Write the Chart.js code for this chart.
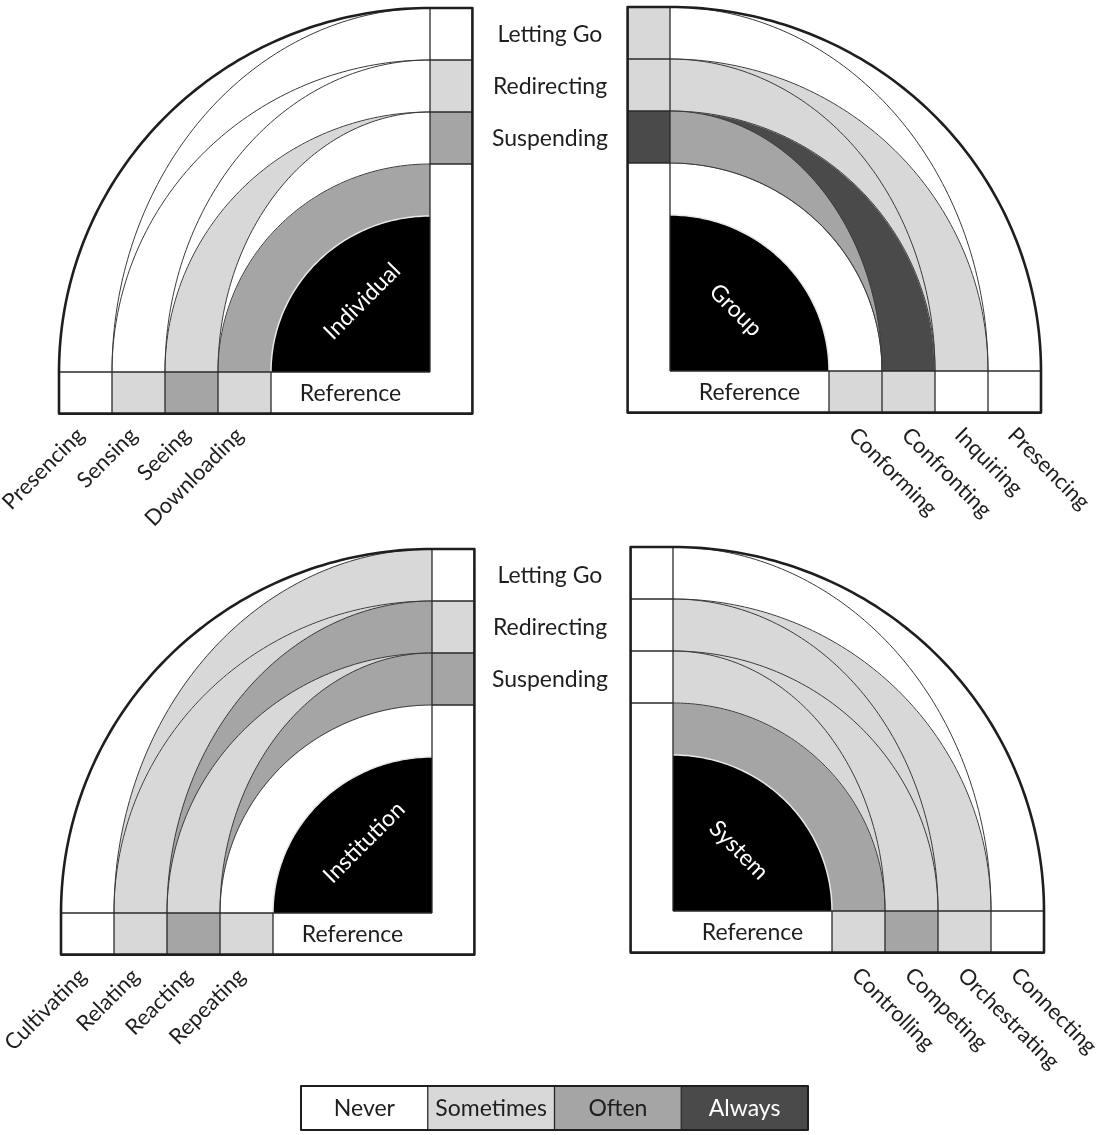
<!DOCTYPE html>
<html>
<head>
<meta charset="utf-8">
<script src="https://cdn.jsdelivr.net/npm/chart.js@4.4.1/dist/chart.umd.min.js"></script>
<style>
html, body { margin: 0; padding: 0; background: #fff; }
#wrap { position: relative; width: 1098px; height: 1135px; }
</style>
</head>
<body>
<div id="wrap"><canvas id="fieldChart" width="1098" height="1135"></canvas></div>
<script>
(function () {

/* ----------- DATA ----------- */

const quadrantNames = ['Individual', 'Group', 'Institution', 'System'];

const individualLevels = ['Downloading', 'Seeing', 'Sensing', 'Presencing'];
const groupLevels = ['Conforming', 'Confronting', 'Inquiring', 'Presencing'];
const institutionLevels = ['Repeating', 'Reacting', 'Relating', 'Cultivating'];
const systemLevels = ['Controlling', 'Competing', 'Orchestrating', 'Connecting'];

const gestures = ['Suspending', 'Redirecting', 'Letting Go'];
const frequencies = ['Never', 'Sometimes', 'Often', 'Always'];

// frequency index: 0 Never, 1 Sometimes, 2 Often, 3 Always
const individualLevelFreq = [1, 2, 1, 0];
const groupLevelFreq = [1, 1, 0, 0];
const institutionLevelFreq = [1, 2, 1, 0];
const systemLevelFreq = [1, 2, 1, 0];

const individualGestureFreq = [2, 1, 0];
const groupGestureFreq = [3, 1, 1];
const institutionGestureFreq = [2, 1, 0];
const systemGestureFreq = [0, 0, 0];

// every ring is cut in two: the part leaning to the gesture bar (upper)
// and the part leaning to the level bar (lower)
const individualRingUpper = [2, 0, 0, 0];
const individualRingLower = [2, 1, 0, 0];
const groupRingUpper = [0, 2, 1, 0];
const groupRingLower = [0, 3, 1, 0];
const institutionRingUpper = [0, 2, 2, 1];
const institutionRingLower = [0, 1, 1, 0];
const systemRingUpper = [2, 1, 1, 0];
const systemRingLower = [2, 1, 1, 0];

/* ----------- LAYOUT / STYLE ----------- */

const UX = 53;       // width of one ring, horizontally
const UY = 52;       // width of one ring, vertically
const CORE = 3;      // reference disk radius, in rings
const BAR = 0.8;     // bar thickness, in rings
const FILLS = ['#ffffff', '#d8d8d8', '#a5a5a5', '#4a4a4a'];
const FONT = 'Lato, "Open Sans", sans-serif';
const FONT_SIZE = 23;
const LEVEL_FONT_SIZE = 22;

const quads = [
  {name: quadrantNames[0], cx: 430, cy: 372, side: -1, levels: individualLevels,
   levelFreq: individualLevelFreq, gestureFreq: individualGestureFreq,
   upper: individualRingUpper, lower: individualRingLower},
  {name: quadrantNames[1], cx: 670, cy: 371, side: 1, levels: groupLevels,
   levelFreq: groupLevelFreq, gestureFreq: groupGestureFreq,
   upper: groupRingUpper, lower: groupRingLower},
  {name: quadrantNames[2], cx: 432, cy: 913, side: -1, levels: institutionLevels,
   levelFreq: institutionLevelFreq, gestureFreq: institutionGestureFreq,
   upper: institutionRingUpper, lower: institutionRingLower},
  {name: quadrantNames[3], cx: 673, cy: 911, side: 1, levels: systemLevels,
   levelFreq: systemLevelFreq, gestureFreq: systemGestureFreq,
   upper: systemRingUpper, lower: systemRingLower}
];

const KEY = {left: 301, top: 1086, width: 507, height: 44};

/* ----------- PLUGIN ----------- */

const fieldPlugin = {
id: 'fieldPlugin',

afterDraw(chart) {

const {ctx, scales: {x, y}} = chart;
const N = 90;

// ring units -> pixels, dx away from the corner, dy upwards
function pt(q, dx, dy) {
  return {
    x: x.getPixelForValue(q.cx + q.side * dx * UX),
    y: y.getPixelForValue(q.cy - dy * UY)
  };
}

function arcPath(q, a, b, reverse) {
  for (let i = 0; i <= N; i++) {
    const t = (reverse ? N - i : i) / N * Math.PI / 2;
    const p = pt(q, a * Math.cos(t), b * Math.sin(t));
    ctx.lineTo(p.x, p.y);
  }
}

function fillBand(q, oa, ob, ia, ib, color) {
  ctx.beginPath();
  arcPath(q, oa, ob, false);
  arcPath(q, ia, ib, true);
  ctx.closePath();
  ctx.fillStyle = color;
  ctx.fill();
}

function strokeArc(q, a, b, width, color) {
  ctx.beginPath();
  const p0 = pt(q, a, 0);
  ctx.moveTo(p0.x, p0.y);
  arcPath(q, a, b, false);
  ctx.lineWidth = width;
  ctx.strokeStyle = color;
  ctx.stroke();
}

function cell(q, d0, d1, e0, e1, color) {
  const p = pt(q, d0, e0), r = pt(q, d1, e1);
  ctx.fillStyle = color;
  ctx.fillRect(Math.min(p.x, r.x), Math.min(p.y, r.y), Math.abs(r.x - p.x), Math.abs(r.y - p.y));
}

function line(q, d0, e0, d1, e1) {
  const p = pt(q, d0, e0), r = pt(q, d1, e1);
  ctx.beginPath();
  ctx.moveTo(p.x, p.y);
  ctx.lineTo(r.x, r.y);
  ctx.stroke();
}

ctx.save();

quads.forEach(q => {

  const outer = CORE + q.levels.length;

  /* rings: whole ring in the lower colour, then the upper part on top */
  q.upper.forEach((u, k) => {
    const r0 = CORE + k, r1 = r0 + 1;
    fillBand(q, r1 + 0.01, r1 + 0.01, r0 - 0.01, r0 - 0.01, FILLS[q.lower[k]]);
    if (u !== q.lower[k]) fillBand(q, r0, r1, r0, r0, FILLS[u]);
  });

  fillBand(q, CORE, CORE, 0, 0, '#000');
  strokeArc(q, CORE, CORE, 1.5, '#e8e8e8');

  /* bars */
  q.levels.forEach((l, i) => cell(q, CORE + i, CORE + i + 1, -BAR, 0, FILLS[q.levelFreq[i]]));
  gestures.forEach((g, j) => cell(q, -BAR, 0, CORE + 1 + j, CORE + 2 + j, FILLS[q.gestureFreq[j]]));

  /* thin lines */
  for (let r = CORE + 1; r < outer; r++) strokeArc(q, r, r, 1, '#3a3a3a');
  for (let k = 1; k < q.levels.length; k++) strokeArc(q, CORE + k, CORE + k + 1, 1, '#3a3a3a');

  ctx.lineWidth = 1.3;
  ctx.strokeStyle = '#2a2a2a';
  line(q, 0, 0, outer, 0);
  line(q, 0, 0, 0, outer);
  for (let i = 0; i < q.levels.length; i++) line(q, CORE + i, -BAR, CORE + i, 0);
  gestures.forEach((g, j) => line(q, -BAR, CORE + 1 + j, 0, CORE + 1 + j));

  /* frame */
  ctx.beginPath();
  const s = pt(q, 0, outer);
  ctx.moveTo(s.x, s.y);
  arcPath(q, outer, outer, true);
  [[outer, -BAR], [-BAR, -BAR], [-BAR, outer], [0, outer]].forEach(([d, e]) => {
    const p = pt(q, d, e);
    ctx.lineTo(p.x, p.y);
  });
  ctx.lineWidth = 2.6;
  ctx.strokeStyle = '#1e1e1e';
  ctx.lineJoin = 'round';
  ctx.stroke();

  /* texts */
  ctx.fillStyle = '#1e1e1e';
  ctx.font = FONT_SIZE + 'px ' + FONT;
  ctx.textAlign = 'center';
  ctx.textBaseline = 'middle';
  const ref = pt(q, CORE / 2, -BAR / 2);
  ctx.fillText('Reference', ref.x, ref.y + 1);

  const nm = q.side < 0 ? pt(q, 1.28, 1.36) : pt(q, 1.24, 1.17);
  ctx.save();
  ctx.translate(nm.x, nm.y);
  ctx.rotate(q.side * Math.PI / 4);
  ctx.fillStyle = '#fff';
  ctx.fillText(q.name, 0, 0);
  ctx.restore();

  ctx.font = LEVEL_FONT_SIZE + 'px ' + FONT;
  q.levels.forEach((l, i) => {
    const p = pt(q, CORE + i + 0.5, -BAR);
    ctx.save();
    if (q.side < 0) ctx.translate(p.x - 5, p.y + 18);
    else ctx.translate(p.x - 3, p.y + 19);
    ctx.rotate(q.side * Math.PI / 4);
    ctx.textAlign = q.side < 0 ? 'right' : 'left';
    ctx.fillStyle = '#1e1e1e';
    ctx.fillText(l, 0, 0);
    ctx.restore();
  });
});

/* gesture labels between the left and the right quadrants */
[quads[0], quads[2]].forEach(q => {
  const mid = (x.getPixelForValue(quads[0].cx) + x.getPixelForValue(quads[1].cx)) / 2;
  gestures.forEach((g, j) => {
    const p = pt(q, 0, CORE + 1.5 + j);
    ctx.fillStyle = '#1e1e1e';
    ctx.font = FONT_SIZE + 'px ' + FONT;
    ctx.textAlign = 'center';
    ctx.textBaseline = 'middle';
    ctx.fillText(g, mid, p.y + 1);
  });
});

/* frequency key */
const kl = x.getPixelForValue(KEY.left), kt = y.getPixelForValue(KEY.top);
const kw = KEY.width / frequencies.length;
frequencies.forEach((f, i) => {
  ctx.fillStyle = FILLS[i];
  ctx.fillRect(kl + i * kw, kt, kw, KEY.height);
  ctx.fillStyle = i === 3 ? '#fff' : '#1e1e1e';
  ctx.font = FONT_SIZE + 'px ' + FONT;
  ctx.textAlign = 'center';
  ctx.textBaseline = 'middle';
  ctx.fillText(f, kl + (i + 0.5) * kw, kt + KEY.height / 2 + 1);
  if (i > 0) {
    ctx.beginPath();
    ctx.moveTo(kl + i * kw, kt);
    ctx.lineTo(kl + i * kw, kt + KEY.height);
    ctx.lineWidth = 1.3;
    ctx.strokeStyle = '#2a2a2a';
    ctx.stroke();
  }
});
ctx.lineWidth = 2;
ctx.strokeStyle = '#1e1e1e';
ctx.strokeRect(kl, kt, KEY.width, KEY.height);

ctx.restore();
}
};

/* ----------- CHART ----------- */

new Chart(document.getElementById('fieldChart'), {
  type: 'scatter',
  data: {datasets: [{data: [], pointRadius: 0}]},
  options: {
    responsive: false,
    animation: false,
    layout: {padding: 0},
    scales: {
      x: {type: 'linear', min: 0, max: 1098, display: false},
      y: {type: 'linear', min: 0, max: 1135, reverse: true, display: false}
    },
    plugins: {legend: {display: false}, tooltip: {enabled: false}}
  },
  plugins: [fieldPlugin]
});

})();
</script>
</body>
</html>
